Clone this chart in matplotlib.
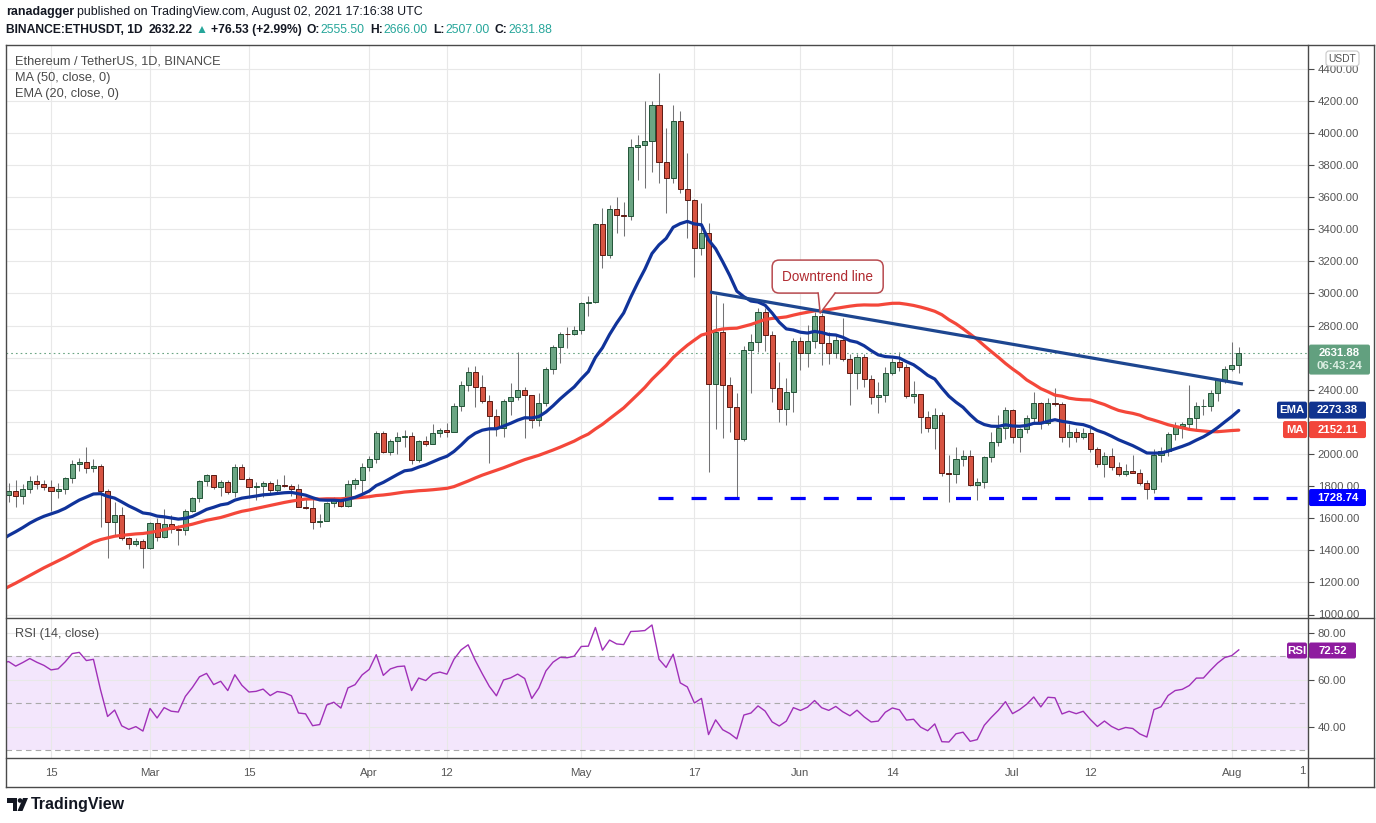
import numpy as np
import pandas as pd
import matplotlib
matplotlib.use('Agg')
import matplotlib.pyplot as plt
from matplotlib.patches import FancyBboxPatch, Polygon, Circle
from matplotlib.lines import Line2D
from matplotlib.transforms import IdentityTransform

plt.rcParams['font.family'] = ['Liberation Sans', 'DejaVu Sans']
plt.rcParams['lines.scale_dashes'] = False

W, H = 1376, 823

# closes before the visible window (Dec 21 2020 .. Feb 8 2021), only used to warm up MA/EMA/RSI
prior_closes = [608, 635, 584, 612, 626, 635, 683, 731, 731, 751, 737,
                730, 775, 979, 1042, 1100, 1208, 1225, 1224, 1281, 1262, 1090, 1043, 1130, 1218, 1171,
                1233, 1230, 1257, 1377, 1382, 1121, 1236, 1230, 1391, 1324, 1357, 1253, 1332, 1382,
                1378, 1314,
                1369, 1514, 1660, 1593, 1723, 1678, 1613, 1746]

start_date = '2021-02-09'
# daily candles Feb 9 .. Aug 2 2021
opens = [1742, 1769, 1740, 1784, 1834, 1813, 1796, 1772, 1782, 1848, 1938, 1952, 1915, 1927, 1772, 1576, 1622, 1477, 1440, 1458,
         1415, 1570, 1484, 1564, 1533, 1526, 1646, 1726, 1832, 1869, 1794, 1826, 1763, 1919, 1844, 1794, 1800, 1819, 1776, 1807,
         1800, 1782, 1670, 1664, 1576, 1582, 1695, 1713, 1676, 1813, 1838,
         1919, 1969, 2131, 2010, 2080, 2106, 2112, 1960, 2081, 2064, 2131, 2150, 2138, 2300, 2430, 2511, 2419, 2330, 2237, 2162,
         2330, 2355, 2399, 2368, 2212, 2318, 2530, 2665, 2748, 2745,
         2770, 2942, 2948, 3433, 3240, 3526, 3489, 3483, 3913, 3925, 3950, 4174, 3819, 3720, 4075, 3651, 3582, 3283, 3377, 2436,
         2760, 2430, 2293, 2093, 2648, 2700, 2885, 2741, 2411, 2280, 2386,
         2704, 2629, 2704, 2860, 2692, 2629, 2710, 2592, 2505, 2605, 2467, 2355, 2368, 2505, 2573, 2542, 2361, 2373, 2230, 2162,
         2243, 1882, 1875, 1969, 1987, 1807, 1825, 1981, 2075, 2162,
         2274, 2106, 2156, 2224, 2318, 2193, 2318, 2312, 2106, 2137, 2106, 2131, 2031, 1938, 1988, 1919, 1875, 1894, 1882, 1819,
         1782, 1994, 2019, 2125, 2175, 2187, 2224, 2296, 2300, 2380, 2461,
         2530, 2555.5]
highs = [1819, 1838, 1810, 1863, 1872, 1840, 1840, 1820, 1855, 1960, 1975, 2044, 1970, 1935, 1785, 1700, 1672, 1480, 1475, 1470,
         1575, 1602, 1657, 1620, 1555, 1655, 1730, 1840, 1875, 1870, 1840, 1838, 1940, 1935, 1858, 1825, 1834, 1832, 1842, 1869,
         1815, 1810, 1728, 1732, 1625, 1700, 1735, 1725, 1840, 1852, 1945,
         1985, 2145, 2145, 2092, 2135, 2150, 2140, 2090, 2112, 2190, 2165, 2195, 2318, 2455, 2545, 2550, 2495, 2365, 2280, 2340,
         2445, 2636, 2420, 2370, 2380, 2540, 2680, 2758, 2792, 2798,
         2950, 2985, 3440, 3530, 3550, 3600, 3570, 3960, 3990, 4200, 4200, 4374, 4030, 4175, 4140, 3875, 3590, 3565, 3440, 2990,
         2941, 2480, 2380, 2673, 2748, 2910, 2910, 2765, 2573, 2473, 2723,
         2729, 2804, 2885, 2879, 2760, 2740, 2847, 2620, 2620, 2625, 2490, 2448, 2540, 2600, 2636, 2560, 2455, 2375, 2270, 2285,
         2260, 1994, 2043, 2025, 2025, 1850, 1990, 2140, 2243, 2290,
         2283, 2160, 2243, 2386, 2325, 2350, 2411, 2325, 2190, 2165, 2165, 2165, 2045, 2010, 2035, 1950, 1940, 1994, 1905, 1840,
         2030, 2045, 2140, 2200, 2200, 2430, 2325, 2345, 2400, 2470, 2550,
         2698, 2666]
lows = [1700, 1670, 1690, 1760, 1780, 1776, 1645, 1725, 1750, 1822, 1893, 1880, 1890, 1545, 1352, 1495, 1465, 1410, 1425, 1290,
        1408, 1455, 1475, 1505, 1433, 1495, 1640, 1700, 1800, 1785, 1740, 1750, 1730, 1842, 1725, 1712, 1730, 1760, 1758, 1795,
        1740, 1668, 1655, 1533, 1545, 1580, 1672, 1670, 1668, 1780, 1757,
        1895, 1945, 2005, 1995, 2000, 2045, 1935, 1950, 2050, 2060, 2106, 2106, 2135, 2270, 2395, 2295, 2315, 1944, 2110, 2105,
        2245, 2335, 2100, 2165, 2175, 2300, 2500, 2570, 2660, 2740,
        2745, 2860, 2940, 3160, 3220, 3380, 3360, 3460, 3710, 3660, 3760, 3690, 3500, 3690, 3625, 3345, 3100, 3240, 1888, 2156,
        2100, 2137, 1729, 2081, 2380, 2635, 2640, 2324, 2200, 2180, 2262,
        2523, 2542, 2660, 2554, 2560, 2600, 2580, 2305, 2405, 2417, 2311, 2255, 2325, 2495, 2520, 2350, 2320, 2131, 2140, 2031,
        1860, 1700, 1819, 1925, 1800, 1713, 1790, 1950, 2050, 2095,
        2069, 2012, 2130, 2190, 2155, 2180, 2300, 2075, 2045, 2075, 2095, 2010, 1920, 1857, 1900, 1860, 1860, 1880, 1805, 1718,
        1760, 1950, 1990, 2085, 2100, 2150, 2150, 2240, 2270, 2330, 2440,
        2515, 2507]
closes = [1769, 1740, 1784, 1834, 1813, 1796, 1772, 1782, 1848, 1938, 1952, 1915, 1927, 1772, 1576, 1622, 1477, 1440, 1458, 1415,
          1570, 1484, 1564, 1533, 1526, 1646, 1726, 1832, 1869, 1794, 1826, 1763, 1919, 1844, 1794, 1800, 1819, 1776, 1807, 1800,
          1782, 1670, 1664, 1576, 1582, 1695, 1713, 1676, 1813, 1838, 1919,
          1969, 2131, 2010, 2080, 2106, 2112, 1960, 2081, 2064, 2131, 2150, 2138, 2300, 2430, 2511, 2419, 2330, 2237, 2162, 2330,
          2355, 2399, 2368, 2212, 2318, 2530, 2665, 2748, 2745, 2770,
          2942, 2948, 3433, 3240, 3526, 3489, 3483, 3913, 3925, 3950, 4174, 3819, 3720, 4075, 3651, 3582, 3283, 3377, 2436, 2760,
          2430, 2293, 2093, 2648, 2700, 2885, 2741, 2411, 2280, 2386, 2704,
          2629, 2704, 2860, 2692, 2629, 2710, 2592, 2505, 2605, 2467, 2355, 2368, 2505, 2573, 2542, 2361, 2373, 2230, 2162, 2243,
          1882, 1875, 1969, 1987, 1807, 1825, 1981, 2075, 2162, 2274,
          2106, 2156, 2224, 2318, 2193, 2318, 2312, 2106, 2137, 2106, 2131, 2031, 1938, 1988, 1919, 1875, 1894, 1882, 1819, 1782,
          1994, 2019, 2125, 2175, 2187, 2224, 2299, 2300, 2380, 2461, 2530,
          2555.5, 2631.88]

x_ticks = ['2021-02-15', '2021-03-01', '2021-03-15', '2021-04-01', '2021-04-12', '2021-05-01',
           '2021-05-17', '2021-06-01', '2021-06-14', '2021-07-01', '2021-07-12', '2021-08-01']
x_tick_labels = ['15', 'Mar', '15', 'Apr', '12', 'May', '17', 'Jun', '14', 'Jul', '12', 'Aug']
price_ticks = list(range(1000, 4401, 200))
hidden_price_labels = [2200, 2600]   # covered by the EMA/MA and last-price labels
rsi_ticks = [40, 60, 80]

# drawings
trend_times = ['2021-05-19 05:00', '2021-08-02 14:00']
trend_prices = [3009, 2436]
support_level = 1728.74
support_times = ['2021-05-11 21:00', '2021-08-10 05:00']
callout_time = '2021-06-03 19:00'
callout_price = 2878

# values shown in the price-scale labels
ema_label, ma_label, rsi_label = 2273.38, 2152.11, 72.52

origin = pd.Timestamp('2021-03-01')


def dnum(t):
    return (pd.Timestamp(t) - origin) / pd.Timedelta(days=1)


def fx(x):
    return x / W


def fy(y):
    return 1 - y / H


o = np.array(opens, float)
hi = np.array(highs, float)
lo = np.array(lows, float)
c = np.array(closes, float)
dates = pd.date_range(start_date, periods=len(c), freq='D')
d = np.array([dnum(t) for t in dates])

# indicators
allc = pd.Series(prior_closes + closes, dtype=float)
ma50 = allc.rolling(50).mean().values
ema20 = allc.ewm(span=20, adjust=False).mean().values
delta = allc.diff().fillna(0)
g = delta.clip(lower=0).ewm(alpha=1 / 14, adjust=False).mean()
l = (-delta).clip(lower=0).ewm(alpha=1 / 14, adjust=False).mean()
rsi = (100 - 100 / (1 + g / l)).values
d_all = np.arange(len(allc)) - len(prior_closes) + d[0]
k0 = len(prior_closes) - 1

fig = plt.figure(figsize=(W / 100, H / 100), dpi=100)
ax = fig.add_axes([fx(6), fy(618), fx(1308) - fx(6), fy(45) - fy(618)])
rx = fig.add_axes([fx(6), fy(758), fx(1308) - fx(6), fy(618) - fy(758)])

xl = ((6 - 150) / 7.07, (1308 - 150) / 7.07)
tick_d = [dnum(t) for t in x_ticks]
grid_c = '#e8e8e8'
for a in (ax, rx):
    a.set_xlim(*xl)
    for s in a.spines.values():
        s.set_visible(False)
    a.set_xticks(tick_d)
    a.yaxis.tick_right()
    a.tick_params(axis='y', length=4, width=0.8, color='#4a4a4a', labelcolor='#555555',
                  labelsize=8.2, pad=3)
    a.grid(True, color=grid_c, lw=0.8)

ax.set_ylim(2000 - (618 - 454) / 0.1605, 2000 + (454 - 45) / 0.1605)
ax.set_yticks(price_ticks)
ax.set_yticklabels(['' if p in hidden_price_labels else '%.2f' % p for p in price_ticks])
ax.tick_params(axis='x', length=0, labelbottom=False)

rx.set_ylim(80 - (758 - 633) / 2.34, 80 + (633 - 618) / 2.34)
rx.set_yticks(rsi_ticks)
rx.set_yticklabels(['%.2f' % v for v in rsi_ticks])
rx.set_xticklabels(x_tick_labels)
rx.tick_params(axis='x', length=0, labelsize=8.2, labelcolor='#555555', pad=7)
rx.set_axisbelow('line')

# candles
up = c >= o
ax.vlines(d, lo, hi, color='#737375', lw=0.75, zorder=2)
body = np.maximum(np.abs(c - o), 5)
bot = np.minimum(o, c)
ax.bar(d[up], body[up], bottom=bot[up], width=0.72, color='#6ba583', edgecolor='#225437', lw=0.7, zorder=3)
ax.bar(d[~up], body[~up], bottom=bot[~up], width=0.72, color='#d75442', edgecolor='#5b1a13', lw=0.7, zorder=3)

# moving averages
ax.plot(d_all[k0:], ma50[k0:], color='#f4473a', lw=2.3, zorder=4, solid_capstyle='round')
ax.plot(d_all[k0:], ema20[k0:], color='#10339a', lw=2.3, zorder=4, solid_capstyle='round')

# last price dotted line
ax.axhline(c[-1], color='#6ba583', lw=0.8, ls=(0, (1.2, 2.2)), zorder=2)

# trend line and support
ax.plot([dnum(t) for t in trend_times], trend_prices, color='#1d4690', lw=2.3, zorder=5,
        solid_capstyle='butt')
ax.plot([dnum(t) for t in support_times], [support_level] * 2, color='#0000ff', lw=2.3,
        ls=(0, (10.8, 13)), zorder=5)

# RSI pane
rx.axhspan(30, 70, color='#f3e6fc', zorder=1, lw=0)
for v in (30, 50, 70):
    rx.axhline(v, color='#aaaaaa', lw=0.8, ls=(0, (4, 3)), zorder=1.6)
rx.plot(d_all[k0:], rsi[k0:], color='#a030b8', lw=1.0, zorder=4)

# hide the lower half of the 1000.00 label like the pane border does
fig.add_artist(FancyBboxPatch((1309.5, H - 757), 64, 138, boxstyle='square,pad=0',
                              transform=IdentityTransform(), fc='white', ec='none', zorder=1.5))
rx.set_zorder(2)


def rbox(x0, y0, x1, y1, fc, ec='none', r=2, lw=0.0, z=6):
    fig.add_artist(FancyBboxPatch((x0, H - y1), x1 - x0, y1 - y0,
                                  boxstyle='round,pad=0,rounding_size=%g' % r,
                                  transform=IdentityTransform(), fc=fc, ec=ec, lw=lw, zorder=z))


def ptext(x, y, s, **kw):
    kw.setdefault('va', 'center')
    kw.setdefault('zorder', 7)
    return fig.text(fx(x), fy(y), s, **kw)


def py(a, v):
    return H - a.transData.transform((0, v))[1]


# callout
tip = ax.transData.transform((dnum(callout_time), callout_price))
tx, ty = tip[0], H - tip[1]
bx0, bx1, by0, by1 = tx - 48, tx + 63, ty - 53, ty - 20
rbox(bx0, by0, bx1, by1, 'white', ec='#b84a4f', r=7, lw=1.1, z=6)
fig.add_artist(Polygon([(tx - 2, H - by1 + 1.5), (tx, H - ty), (tx + 15, H - by1 + 1.5)], closed=True,
                       transform=IdentityTransform(), fc='white', ec='none', zorder=6.5))
fig.add_artist(Line2D([tx - 2, tx, tx + 15], [H - by1, H - ty, H - by1], color='#b84a4f', lw=1.1,
                      transform=IdentityTransform(), zorder=6.6))
ptext((bx0 + bx1) / 2, (by0 + by1) / 2, 'Downtrend line', ha='center', fontsize=9.8, color='#b02a30')

# price scale labels
bold = dict(color='white', fontsize=8.2, fontweight='bold', ha='center')
cy = py(ax, c[-1])
rbox(1309, cy - 8, 1370, cy + 22, '#62a07f')
ptext(1339.5, cy + 0.5, '%.2f' % c[-1], **bold)
ptext(1339.5, cy + 13, '06:43:24', color='#dcefe3', fontsize=8.2, fontweight='bold', ha='center')

ey = py(ax, ema_label)
rbox(1277, ey - 8.5, 1307, ey + 8.5, '#10338f')
rbox(1309, ey - 8.5, 1366, ey + 8.5, '#10338f')
ptext(1292, ey, 'EMA', **bold)
ptext(1337.5, ey, '%.2f' % ema_label, **bold)

my = py(ax, ma_label)
rbox(1283, my - 8.5, 1307, my + 8.5, '#f2463b')
rbox(1309, my - 8.5, 1366, my + 8.5, '#f2463b')
ptext(1295, my, 'MA', **bold)
ptext(1337.5, my, '%.2f' % ma_label, **bold)

sy = py(ax, support_level)
rbox(1309, sy - 8.5, 1366, sy + 8.5, '#0000ff')
ptext(1337.5, sy, '%.2f' % support_level, **bold)

ry = py(rx, rsi_label)
rbox(1287, ry - 8, 1307, ry + 8, '#8e1b9f')
rbox(1309, ry - 8, 1356, ry + 8, '#8e1b9f')
ptext(1297, ry, 'RSI', **bold)
ptext(1332.5, ry, '%.2f' % rsi_label, **bold)

rbox(1326, 51, 1359, 66, 'white', ec='#c8c8c8', r=3, lw=0.8)
ptext(1342.5, 58.5, 'USDT', ha='center', fontsize=7.4, color='#555555')

ptext(1302, 771, '1', ha='center', fontsize=8.2, color='#555555')

# frame
fc_ = '#4a4a4a'
for xs, ys in [([6, 1374], [45, 45]), ([6, 1374], [787, 787]), ([6, 6], [45, 787]),
               ([1374, 1374], [45, 787]), ([6, 1374], [618, 618]), ([6, 1374], [758, 758]),
               ([1308, 1308], [45, 787])]:
    fig.add_artist(Line2D([fx(x) for x in xs], [fy(y) for y in ys], color=fc_, lw=1.0, zorder=8))

# legend inside main pane
ptext(15, 61, 'Ethereum / TetherUS, 1D, BINANCE', fontsize=9.2, color='#4a4a4a')
ptext(15, 78, 'MA (50, close, 0)', fontsize=9.2, color='#4a4a4a')
ptext(15, 94.5, 'EMA (20, close, 0)', fontsize=9.2, color='#4a4a4a')
ptext(15, 634, 'RSI (14, close)', fontsize=9.2, color='#4a4a4a')

# header
renderer = fig.canvas.get_renderer()


def seq(x, y, parts, fs=8.9):
    for s, col, wt, gap in parts:
        t = ptext(x, y, s, fontsize=fs, color=col, fontweight=wt)
        x = t.get_window_extent(renderer).x1 + gap


dark, teal = '#131722', '#26a69a'
seq(6, 12, [('ranadagger', dark, 'bold', 3),
            ('published on TradingView.com, August 02, 2021 17:16:38 UTC', dark, 'normal', 0)])
seq(6, 30, [('BINANCE:ETHUSDT, 1D', dark, 'bold', 6), ('2632.22', dark, 'bold', 3),
            ('▲', teal, 'normal', 3), ('+76.53 (+2.99%)', dark, 'bold', 5),
            ('O:', dark, 'bold', 1), ('2555.50', teal, 'normal', 5),
            ('H:', dark, 'bold', 1), ('2666.00', teal, 'normal', 5),
            ('L:', dark, 'bold', 1), ('2507.00', teal, 'normal', 5),
            ('C:', dark, 'bold', 1), ('2631.88', teal, 'normal', 0)], fs=8.7)

# TradingView logo
logo = '#131722'
fig.add_artist(Polygon([(7, H - 798), (17, H - 798), (17, H - 811), (12.5, H - 811), (12.5, H - 802.5),
                        (7, H - 802.5)], closed=True, transform=IdentityTransform(), fc=logo, ec='none'))
fig.add_artist(Circle((20, H - 800.5), 2.3, transform=IdentityTransform(), fc=logo, ec='none'))
fig.add_artist(Polygon([(23, H - 798), (28, H - 798), (22.5, H - 811), (17.5, H - 811)], closed=True,
                       transform=IdentityTransform(), fc=logo, ec='none'))
ptext(31, 805, 'TradingView', fontsize=11.5, fontweight='bold', color=logo)

fig.savefig('out.png', dpi=100)
